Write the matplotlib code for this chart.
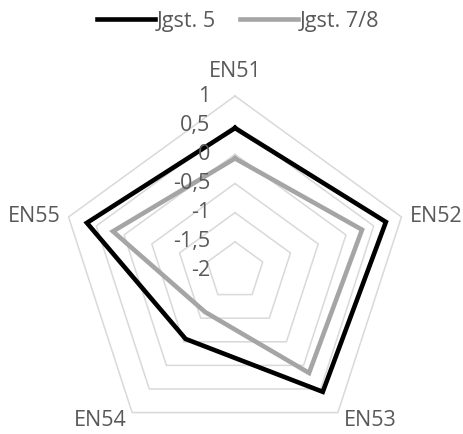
import numpy as np
import matplotlib as mpl
mpl.use('Agg')
import matplotlib.pyplot as plt

plt.rcParams['font.family'] = ['Open Sans', 'DejaVu Sans']

categories = ['EN51', 'EN52', 'EN53', 'EN54', 'EN55']
jgst5 = [0.45, 0.72, 0.56, -0.56, 0.67]
jgst78 = [-0.07, 0.29, 0.16, -1.13, 0.20]
ticks = [-2, -1.5, -1, -0.5, 0, 0.5, 1]
tick_labels = ['-2', '-1,5', '-1', '-0,5', '0', '0,5', '1']

text_col = '#595959'
grid_col = '#d9d9d9'
fs = 15.5

fig = plt.figure(figsize=(4.64, 4.34), dpi=100)
# center at (235, 271) px, outer radius 175 px
ax = fig.add_axes([60 / 464, (434 - 271 - 175) / 434, 350 / 464, 350 / 434],
                  projection='polar')
ax.set_theta_zero_location('N')
ax.set_theta_direction(-1)
ax.set_ylim(-2, 1)
ax.grid(False)
ax.spines['polar'].set_visible(False)
ax.set_xticks([])
ax.set_yticks([])
ax.patch.set_visible(False)

n = len(categories)
theta = np.linspace(0, 2 * np.pi, n, endpoint=False)
theta_c = np.append(theta, theta[0])

# pentagon grid
for t in ticks[1:]:
    ax.plot(theta_c, [t] * (n + 1), color=grid_col, lw=1.1, clip_on=False, zorder=1)


def closed(vals):
    return list(vals) + [vals[0]]


l1, = ax.plot(theta_c, closed(jgst5), color='black', lw=3.3, clip_on=False,
              solid_joinstyle='miter', zorder=3, label='Jgst. 5')
l2, = ax.plot(theta_c, closed(jgst78), color='#a5a5a5', lw=3.3, clip_on=False,
              solid_joinstyle='miter', zorder=2, label='Jgst. 7/8')

# value axis labels
for t, lab in zip(ticks, tick_labels):
    ax.annotate(lab, xy=(0, t), xytext=(-18, 0), textcoords='offset points',
                ha='right', va='center', fontsize=fs, color=text_col)

# category labels
offsets = [(0, 10, 'center', 'bottom'),
           (6, 0, 'left', 'center'),
           (4, 2, 'left', 'top'),
           (-4, 2, 'right', 'top'),
           (-6, 0, 'right', 'center')]
for th, lab, (dx, dy, ha, va) in zip(theta, categories, offsets):
    ax.annotate(lab, xy=(th, 1), xytext=(dx, dy), textcoords='offset points',
                ha=ha, va=va, fontsize=fs, color=text_col)

fig.legend(handles=[l1, l2], loc='center', bbox_to_anchor=(238 / 464, 1 - 21 / 434),
           ncol=2, frameon=False, fontsize=fs, labelcolor=text_col,
           handlelength=2.7, handletextpad=0.1, columnspacing=1.1)

fig.savefig('out.png', dpi=100)
